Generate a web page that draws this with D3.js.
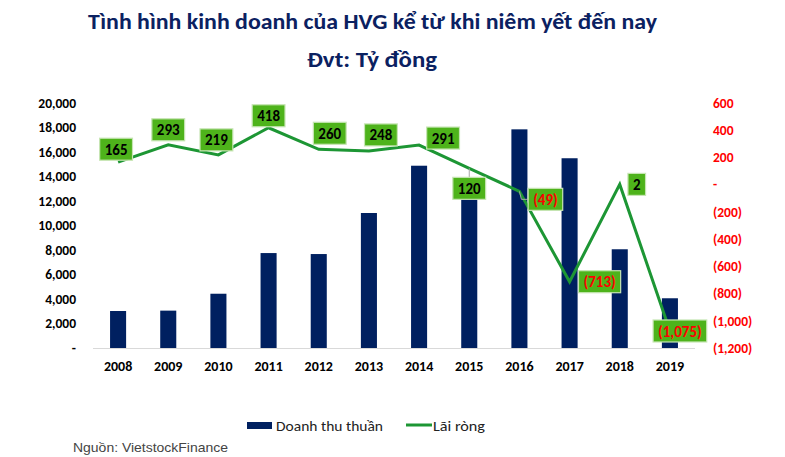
<!DOCTYPE html>
<html><head><meta charset="utf-8">
<script src="https://cdn.jsdelivr.net/npm/d3@7"></script>
<style>
html,body{margin:0;padding:0;background:#fff;}
svg{display:block;}
</style></head>
<body>
<svg id="c" width="785" height="457"></svg>
<script>
const years = ["2008","2009","2010","2011","2012","2013","2014","2015","2016","2017","2018","2019"];
const revenue = [3020, 3050, 4430, 7750, 7670, 11020, 14880, 12300, 17850, 15490, 8060, 4060];
const netProfit = [165, 293, 219, 418, 260, 248, 291, 120, -49, -713, 2, -1075];
const leftTicks = [0, 2000, 4000, 6000, 8000, 10000, 12000, 14000, 16000, 18000, 20000];
const rightTicks = [-1200, -1000, -800, -600, -400, -200, 0, 200, 400, 600];
// label box centre offset from its point (annotation layout)
const labelOffset = [[-2,-13],[0,-15],[-2,-15],[0,-12],[11,-16],[12,-16],[24,-7],[0,20],[26,8],[30,0],[17,0],[10,0]];
const labelLeader = [false,false,false,false,false,false,false,true,true,false,false,false];
const title1 = "Tình hình kinh doanh của HVG kể từ khi niêm yết đến nay";
const title2 = "Đvt: Tỷ đồng";
const legendNames = ["Doanh thu thuần", "Lãi ròng"];
const source = "Nguồn: VietstockFinance";

(function(){
const svg = d3.select("#c");
const FONT = "Carlito, Lato, 'Open Sans', sans-serif";
const navy = "#002060", lineC = "#1d9634", boxFill = "#4eb31b", boxStroke = "#c6e5b3";
const pL = 93, pR = 695, pT = 103, pB = 348;

const x = d3.scaleBand().domain(years).range([pL, pR]).paddingInner(0.68).paddingOuter(0.34);
const yL = d3.scaleLinear().domain([0, 20000]).range([pB, pT]);
const yR = d3.scaleLinear().domain([-1200, 600]).range([pB, pT]);
const cx = d => x(d) + x.bandwidth() / 2;

// titles
svg.append("text").attr("x", 372.5).attr("y", 29).attr("text-anchor", "middle")
  .attr("font-family", FONT).attr("font-weight", "900").attr("font-size", 22.5)
  .attr("fill", "#0b2161").attr("textLength", 569).attr("lengthAdjust", "spacingAndGlyphs").text(title1);
svg.append("text").attr("x", 372).attr("y", 67).attr("text-anchor", "middle")
  .attr("font-family", FONT).attr("font-weight", "900").attr("font-size", 22.5)
  .attr("fill", "#0b2161").attr("textLength", 130).attr("lengthAdjust", "spacingAndGlyphs").text(title2);

// axes
const fmtL = v => v === 0 ? "-" : d3.format(",")(v);
const fmtR = v => v === 0 ? "-" : (v < 0 ? "(" + d3.format(",")(-v) + ")" : d3.format(",")(v));

const gL = svg.append("g").attr("transform", `translate(${pL},0)`)
  .call(d3.axisLeft(yL).tickValues(leftTicks).tickFormat(fmtL).tickSize(0).tickPadding(17));
gL.select(".domain").remove();
gL.selectAll("text").attr("font-family", FONT).attr("font-weight", "bold").attr("font-size", 13.5).attr("fill", "#000");

const gR = svg.append("g").attr("transform", `translate(${pR},0)`)
  .call(d3.axisRight(yR).tickValues(rightTicks).tickFormat(fmtR).tickSize(0).tickPadding(18));
gR.select(".domain").remove();
gR.selectAll("text").attr("font-family", FONT).attr("font-weight", "bold").attr("font-size", 13.5).attr("fill", "#ff0000");

const gX = svg.append("g").attr("transform", `translate(0,${pB})`)
  .call(d3.axisBottom(x).tickSize(0).tickPadding(13));
gX.select(".domain").remove();
gX.selectAll("text").attr("font-family", FONT).attr("font-weight", "bold").attr("font-size", 14).attr("fill", "#000");

// bars
svg.append("g").selectAll("rect").data(years).join("rect")
  .attr("x", d => x(d)).attr("width", x.bandwidth())
  .attr("y", (d, i) => yL(revenue[i])).attr("height", (d, i) => pB - yL(revenue[i]))
  .attr("fill", navy);

// baseline
svg.append("line").attr("x1", pL).attr("x2", pR).attr("y1", pB + 0.5).attr("y2", pB + 0.5)
  .attr("stroke", "#d9d9d9").attr("stroke-width", 1);

// line
const line = d3.line().x((d, i) => cx(years[i])).y(d => yR(d));
svg.append("path").datum(netProfit).attr("d", line).attr("fill", "none")
  .attr("stroke", lineC).attr("stroke-width", 3).attr("stroke-linejoin", "miter");

// labels
const lg = svg.append("g");
netProfit.forEach((v, i) => {
  const px = cx(years[i]), py = yR(v);
  const [dx, dy] = labelOffset[i];
  const bx = px + dx, by = py + dy;
  const txt = fmtR(v);
  const g = lg.append("g");
  const t = g.append("text").attr("x", bx).attr("y", by).attr("dy", "0.37em").attr("text-anchor", "middle")
    .attr("font-family", FONT).attr("font-weight", "bold").attr("font-size", 15)
    .attr("fill", v < 0 ? "#ff0000" : "#000").text(txt);
  const w = t.node().getComputedTextLength() + 10, h = 22;
  if (labelLeader[i]) {
    if (dx > 0 && Math.abs(dy) < h) {
      g.insert("path", "text").attr("d", `M${px},${py}L${px + 2},${by}L${bx - w / 2},${by}`)
        .attr("fill", "none").attr("stroke", "#a6a6a6").attr("stroke-width", 1);
    } else {
      g.insert("line", "text").attr("x1", px).attr("y1", py).attr("x2", px).attr("y2", by - h / 2)
        .attr("stroke", "#a6a6a6").attr("stroke-width", 1);
    }
  }
  g.insert("rect", "text").attr("x", bx - w / 2).attr("y", by - h / 2).attr("width", w).attr("height", h)
    .attr("fill", boxFill).attr("stroke", boxStroke).attr("stroke-width", 1.2);
});

// legend
const leg = svg.append("g");
leg.append("rect").attr("x", 247).attr("y", 422).attr("width", 25).attr("height", 7).attr("fill", navy);
leg.append("text").attr("x", 276).attr("y", 430.5).attr("font-family", FONT).attr("font-size", 14.5)
  .attr("fill", "#222").attr("textLength", 107).attr("lengthAdjust", "spacingAndGlyphs").text(legendNames[0]);
leg.append("line").attr("x1", 406).attr("x2", 432).attr("y1", 425).attr("y2", 425)
  .attr("stroke", lineC).attr("stroke-width", 3);
leg.append("text").attr("x", 433).attr("y", 430.5).attr("font-family", FONT).attr("font-size", 14.5)
  .attr("fill", "#222").attr("textLength", 52).attr("lengthAdjust", "spacingAndGlyphs").text(legendNames[1]);

// source
svg.append("text").attr("x", 73).attr("y", 452).attr("font-family", "'Liberation Sans', Arial, sans-serif")
  .attr("font-size", 13).attr("fill", "#444").attr("textLength", 155).attr("lengthAdjust", "spacingAndGlyphs").text(source);
})();
</script>
</body></html>
